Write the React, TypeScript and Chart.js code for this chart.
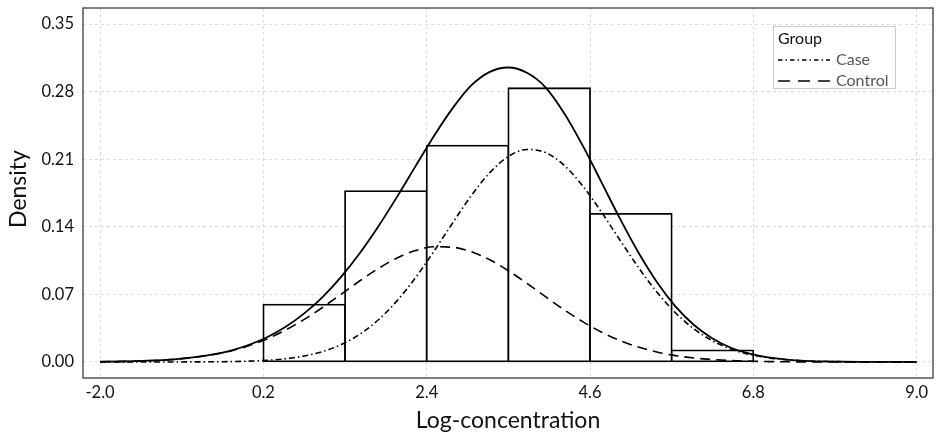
import { useEffect, useRef } from "react";
import { Chart, registerables } from "chart.js";

Chart.register(...registerables);

// Histogram bins (left edge 0.2, width 1.1)
const binCenters = [0.75, 1.85, 2.95, 4.05, 5.15, 6.25];
const binDensity = [0.0593, 0.177, 0.224, 0.2835, 0.1534, 0.012];

// Density curve sample points
const gridX = [-2, -1.75, -1.5, -1.25, -1, -0.75, -0.5, -0.25, 0, 0.25, 0.5, 0.75, 1, 1.25, 1.5, 1.75, 2, 2.25, 2.5, 2.75, 3, 3.25, 3.5, 3.75, 4, 4.25, 4.5, 4.75, 5, 5.25, 5.5, 5.75, 6, 6.25, 6.5, 6.75, 7, 7.25, 7.5, 7.75, 8, 8.25, 8.5, 8.75, 9];
const caseDensity = [0, 0, 0, 0.00001, 0.00003, 0.00008, 0.00018, 0.0004, 0.00085, 0.0017, 0.0033, 0.0062, 0.0108, 0.0181, 0.0288, 0.0437, 0.0633, 0.0874, 0.115, 0.1441, 0.1722, 0.1961, 0.2128, 0.2201, 0.2169, 0.2038, 0.1825, 0.1557, 0.1266, 0.0981, 0.0725, 0.051, 0.0342, 0.0219, 0.0133, 0.0078, 0.0043, 0.0023, 0.0011, 0.0005, 0.0003, 0.0001, 0, 0, 0];
const controlDensity = [0.00025, 0.0005, 0.0009, 0.0016, 0.0027, 0.0046, 0.0073, 0.0112, 0.0167, 0.0239, 0.0331, 0.0441, 0.0567, 0.0703, 0.0841, 0.0969, 0.1077, 0.1154, 0.1193, 0.1188, 0.1142, 0.1058, 0.0945, 0.0814, 0.0676, 0.0541, 0.0418, 0.0311, 0.0223, 0.0155, 0.0103, 0.0066, 0.0041, 0.0025, 0.0014, 0.0008, 0.0004, 0.0002, 0.0001, 0.0001, 0, 0, 0, 0, 0];
const totalDensity = [0.00025, 0.0005, 0.0009, 0.0016, 0.0027, 0.0047, 0.0075, 0.0116, 0.0176, 0.0256, 0.0364, 0.0503, 0.0675, 0.0884, 0.1129, 0.1406, 0.171, 0.2028, 0.2343, 0.2629, 0.2864, 0.3005, 0.305, 0.2995, 0.2845, 0.2579, 0.2243, 0.1868, 0.1489, 0.1136, 0.0828, 0.0576, 0.0383, 0.0244, 0.0147, 0.0086, 0.0047, 0.0025, 0.0012, 0.0006, 0.0003, 0.0001, 0, 0, 0];

const xTicks = [-2.0, 0.2, 2.4, 4.6, 6.8, 9.0];
const yTicks = [0, 0.07, 0.14, 0.21, 0.28, 0.35];

const xTitle = "Log-concentration";
const yTitle = "Density";
const legendTitle = "Group";
const legendLabels = ["Case", "Control"];

const FONT = "Lato, 'DejaVu Sans', sans-serif";
const CASE_DASH = [6, 3, 1.5, 3];
const CONTROL_DASH = [10, 6];

const decorPlugin = {
  id: "decor",
  afterDatasetsDraw(chart: any) {
    const { ctx, chartArea: a } = chart;
    ctx.save();
    ctx.strokeStyle = "#555";
    ctx.lineWidth = 1.5;
    ctx.setLineDash([]);
    ctx.strokeRect(a.left, a.top, a.right - a.left, a.bottom - a.top);
    ctx.restore();
  },
  afterDraw(chart: any) {
    const { ctx, chartArea: a } = chart;
    ctx.save();
    // axis titles
    ctx.fillStyle = "#111";
    ctx.font = `23px ${FONT}`;
    ctx.textAlign = "center";
    ctx.textBaseline = "alphabetic";
    ctx.fillText(xTitle, (a.left + a.right) / 2, 427.5);
    ctx.save();
    ctx.translate(26, (a.top + a.bottom) / 2 - 4);
    ctx.rotate(-Math.PI / 2);
    ctx.fillText(yTitle, 0, 0);
    ctx.restore();

    // legend box
    const bx = 773.5, by = 26.5, bw = 122, bh = 62;
    ctx.fillStyle = "#ffffff";
    ctx.fillRect(bx, by, bw, bh);
    ctx.strokeStyle = "#cccccc";
    ctx.lineWidth = 1;
    ctx.strokeRect(bx, by, bw, bh);

    ctx.textAlign = "left";
    ctx.textBaseline = "middle";
    ctx.font = `16px ${FONT}`;
    ctx.fillStyle = "#111";
    ctx.fillText(legendTitle, 778, 39);

    const rows = [60, 81];
    const dashes = [[4.5, 3, 1.5, 3], [12, 8]];
    legendLabels.forEach((lab, i) => {
      ctx.strokeStyle = "#000";
      ctx.lineWidth = 1.6;
      ctx.setLineDash(dashes[i]);
      ctx.beginPath();
      ctx.moveTo(778, rows[i]);
      ctx.lineTo(830, rows[i]);
      ctx.stroke();
      ctx.setLineDash([]);
      ctx.fillStyle = "#555";
      ctx.fillText(lab, 836, rows[i]);
    });
    ctx.restore();
  },
};

export default function App() {
  const ref = useRef<HTMLCanvasElement | null>(null);

  useEffect(() => {
    if (!ref.current) return;
    const pts = (ys: number[]) => gridX.map((x, i) => ({ x, y: ys[i] }));
    const chart = new Chart(ref.current, {
      type: "bar",
      data: {
        datasets: [
          {
            type: "line",
            label: "Total",
            data: pts(totalDensity),
            borderColor: "#000",
            borderWidth: 1.8,
            pointRadius: 0,
            cubicInterpolationMode: "monotone",
            order: 0,
          } as any,
          {
            type: "line",
            label: "Case",
            data: pts(caseDensity),
            borderColor: "#000",
            borderWidth: 1.6,
            borderDash: CASE_DASH,
            pointRadius: 0,
            cubicInterpolationMode: "monotone",
            order: 1,
          } as any,
          {
            type: "line",
            label: "Control",
            data: pts(controlDensity),
            borderColor: "#000",
            borderWidth: 1.6,
            borderDash: CONTROL_DASH,
            pointRadius: 0,
            cubicInterpolationMode: "monotone",
            order: 2,
          } as any,
          {
            type: "bar",
            label: "Histogram",
            data: binCenters.map((x, i) => ({ x, y: binDensity[i] })),
            backgroundColor: "#ffffff",
            borderColor: "#000",
            borderWidth: 1.8,
            borderSkipped: false,
            inflateAmount: 0.9,
            barPercentage: 1,
            categoryPercentage: 1,
            order: 3,
          } as any,
        ],
      },
      options: {
        animation: false,
        responsive: false,
        devicePixelRatio: 1,
        layout: { padding: { left: 0, top: 8, right: 4, bottom: 0 } },
        plugins: { legend: { display: false }, tooltip: { enabled: false } },
        scales: {
          x: {
            type: "linear",
            offset: false,
            min: -2.23,
            max: 9.22,
            afterBuildTicks: (s: any) => {
              s.ticks = xTicks.map((v) => ({ value: v }));
            },
            afterFit: (s: any) => {
              s.height = 55;
              s.paddingLeft = 0;
              s.paddingRight = 0;
            },
            ticks: {
              autoSkip: false,
              maxRotation: 0,
              padding: 5,
              color: "#111",
              font: { family: FONT, size: 16.5 },
              callback: (v: any) => Number(v).toFixed(1),
            },
            grid: { color: "#dcdcdc", lineWidth: 1, drawTicks: false, offset: false },
            border: { display: false, dash: [3, 3] },
          },
          y: {
            type: "linear",
            min: -0.0166,
            max: 0.3666,
            afterBuildTicks: (s: any) => {
              s.ticks = yTicks.map((v) => ({ value: v }));
            },
            afterFit: (s: any) => {
              s.width = 83;
              s.paddingTop = 0;
              s.paddingBottom = 0;
            },
            ticks: {
              autoSkip: false,
              padding: 9,
              color: "#111",
              font: { family: FONT, size: 16.5 },
              callback: (v: any) => Number(v).toFixed(2),
            },
            grid: { color: "#dcdcdc", lineWidth: 1, drawTicks: false },
            border: { display: false, dash: [3, 3] },
          },
        },
      },
      plugins: [decorPlugin],
    });
    return () => chart.destroy();
  }, []);

  return (
    <div style={{ position: "absolute", left: 0, top: 0, width: 937, height: 433, background: "#fff" }}>
      <canvas ref={ref} width={937} height={433} style={{ display: "block" }} />
    </div>
  );
}
